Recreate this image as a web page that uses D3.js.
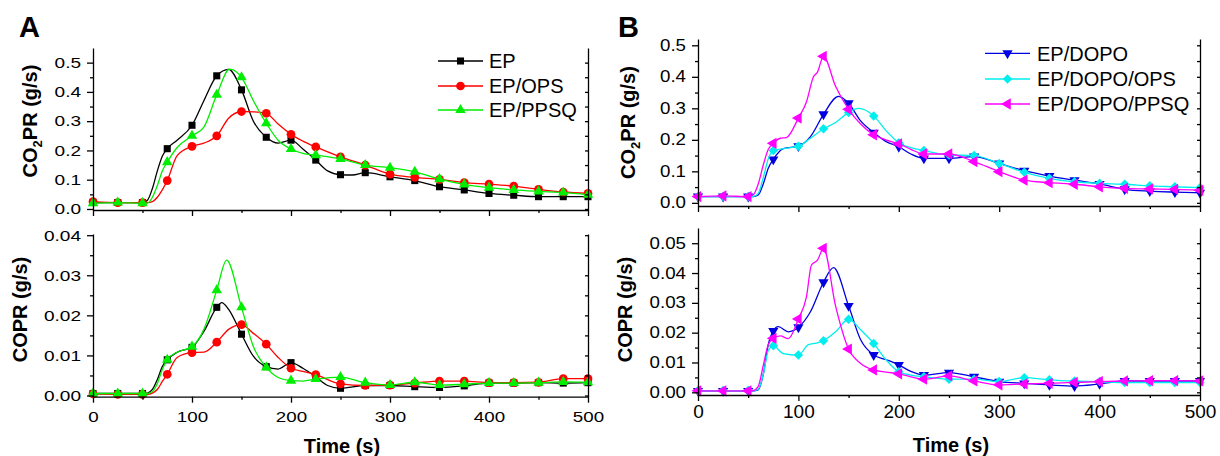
<!DOCTYPE html>
<html>
<head>
<meta charset="utf-8">
<script src="https://cdn.jsdelivr.net/npm/d3@7"></script>
<style>
  body { margin: 0; background: #fff; }
  svg { display: block; font-family: Arial, "Liberation Sans", sans-serif; }
</style>
</head>
<body>
<div id="chart"></div>
<script>
// time axis
const timeMajor = [0, 100, 200, 300, 400, 500];
const timeMinor = [50, 150, 250, 350, 450];

// Panel A, CO2 production rate (g/s) — [time, value]
const epCO2 = [[0,.022],[25,.022],[50,.022],[55,.03],[60,.07],[65,.13],[70,.18],[75,.206],[85,.235],[100,.286],[112,.37],[125,.455],[137,.477],[150,.407],[162,.30],[175,.245],[187,.225],[200,.235],[212,.205],[225,.167],[237,.13],[250,.117],[262,.116],[275,.124],[300,.110],[325,.097],[350,.076],[375,.065],[400,.053],[425,.047],[450,.042],[475,.042],[500,.042]];
const opsCO2 = [[0,.025],[25,.022],[50,.022],[55,.022],[60,.025],[65,.04],[70,.065],[75,.097],[85,.182],[100,.214],[112,.225],[125,.25],[137,.31],[150,.333],[162,.332],[175,.327],[187,.29],[200,.255],[212,.232],[225,.212],[250,.178],[275,.150],[300,.119],[325,.108],[350,.101],[375,.090],[400,.085],[425,.078],[450,.067],[475,.058],[500,.053]];
const ppsqCO2 = [[0,.02],[25,.022],[50,.02],[55,.02],[60,.04],[65,.08],[70,.13],[75,.16],[85,.21],[100,.25],[112,.28],[125,.39],[138,.478],[150,.45],[162,.37],[175,.293],[187,.235],[200,.205],[212,.19],[225,.184],[250,.171],[275,.150],[300,.141],[325,.127],[350,.102],[375,.084],[400,.073],[425,.065],[450,.060],[475,.056],[500,.049]];

// Panel A, CO production rate (g/s)
const epCO = [[0,.0005],[25,.0005],[50,.0005],[55,.0006],[60,.0015],[65,.004],[70,.0072],[75,.0089],[85,.0108],[100,.012],[112,.016],[125,.022],[130,.0232],[137,.0215],[150,.0153],[162,.0098],[175,.0072],[187,.0066],[200,.0082],[212,.0068],[225,.0047],[237,.0025],[250,.0018],[275,.0025],[300,.0025],[325,.0022],[350,.002],[375,.0024],[400,.0031],[425,.0031],[450,.0032],[475,.0031],[500,.0032]];
const opsCO = [[0,.0004],[25,.0003],[50,.0003],[55,.0003],[60,.0006],[65,.0015],[70,.0035],[75,.0053],[85,.0095],[100,.0107],[112,.0108],[125,.0133],[137,.0165],[150,.0177],[162,.0155],[175,.0128],[187,.0095],[200,.0068],[212,.006],[225,.0052],[250,.0029],[275,.0025],[300,.0026],[325,.0031],[350,.0036],[375,.0036],[400,.0032],[425,.0032],[450,.0033],[475,.0042],[500,.0042]];
const ppsqCO = [[0,.0005],[25,.0005],[50,.0005],[55,.0005],[60,.001],[65,.003],[70,.0065],[75,.0089],[85,.0108],[100,.0122],[112,.0165],[125,.0263],[135,.0338],[150,.022],[162,.0122],[175,.007],[187,.0045],[200,.0037],[212,.0036],[225,.0041],[250,.0046],[275,.0032],[300,.0026],[325,.0033],[350,.0026],[375,.0028],[400,.0031],[425,.0031],[450,.0032],[475,.0034],[500,.0033]];

// Panel B, CO2 production rate (g/s)
const dopoCO2 = [[0,.02],[25,.02],[50,.02],[55,.02],[60,.025],[65,.06],[70,.11],[75,.138],[85,.172],[100,.18],[112,.21],[125,.281],[140,.338],[150,.316],[162,.26],[175,.223],[187,.195],[200,.178],[212,.155],[225,.141],[250,.141],[275,.147],[300,.125],[325,.102],[350,.085],[375,.072],[400,.060],[425,.043],[450,.037],[475,.034],[500,.032]];
const dopoOpsCO2 = [[0,.02],[25,.02],[50,.02],[55,.02],[60,.03],[65,.08],[70,.14],[75,.166],[85,.172],[100,.18],[112,.205],[125,.235],[137,.255],[150,.287],[160,.30],[175,.276],[187,.23],[200,.191],[212,.175],[225,.166],[250,.152],[275,.150],[300,.125],[325,.097],[350,.078],[375,.067],[400,.062],[425,.059],[450,.054],[475,.051],[500,.048]];
const dopoPpsqCO2 = [[0,.02],[25,.022],[50,.02],[55,.025],[60,.06],[65,.12],[70,.17],[75,.189],[82,.205],[88,.207],[100,.269],[108,.32],[115,.40],[119,.415],[125,.465],[137,.37],[150,.297],[162,.25],[175,.216],[187,.20],[200,.187],[212,.17],[225,.155],[250,.155],[275,.131],[300,.099],[325,.072],[350,.064],[375,.059],[400,.051],[425,.046],[450,.044],[475,.043],[500,.040]];

// Panel B, CO production rate (g/s)
const dopoCO = [[0,.0005],[25,.0005],[50,.0005],[55,.0005],[60,.0008],[65,.006],[70,.016],[75,.0206],[80,.022],[90,.0203],[100,.0218],[112,.027],[125,.0369],[135,.0418],[150,.029],[162,.0176],[175,.0125],[187,.011],[200,.0092],[212,.007],[225,.0058],[250,.0066],[275,.0052],[300,.0036],[325,.0030],[350,.0025],[375,.0021],[400,.0028],[425,.0038],[450,.0038],[475,.0038],[500,.0038]];
const dopoOpsCO = [[0,.0006],[25,.0006],[50,.0006],[55,.0006],[60,.001],[65,.006],[70,.014],[75,.0156],[85,.013],[100,.0125],[110,.016],[118,.0165],[125,.0173],[137,.0203],[150,.0245],[162,.021],[175,.0164],[187,.011],[200,.0069],[212,.0058],[225,.0052],[250,.0044],[275,.0044],[300,.0036],[325,.0049],[350,.0042],[375,.0038],[400,.0036],[425,.0033],[450,.0033],[475,.0033],[500,.0033]];
const dopoPpsqCO = [[0,.0005],[25,.0005],[50,.0005],[55,.0006],[60,.002],[65,.009],[70,.016],[75,.0181],[82,.0189],[90,.018],[100,.0246],[108,.032],[113,.0427],[119,.0443],[125,.0483],[137,.029],[150,.0145],[162,.0097],[175,.0075],[187,.0068],[200,.0062],[212,.0052],[225,.0044],[250,.0055],[275,.0038],[300,.0025],[325,.0028],[350,.003],[375,.0033],[400,.0036],[425,.0038],[450,.0039],[475,.0039],[500,.0038]];

const namesA = ['EP', 'EP/OPS', 'EP/PPSQ'];
const namesB = ['EP/DOPO', 'EP/DOPO/OPS', 'EP/DOPO/PPSQ'];

const W = 1220, H = 456;
const svg = d3.select('#chart').append('svg').attr('width', W).attr('height', H);

// marker styles
const styleA = [
  { color: '#000000', symbol: d3.symbolSquare, size: 50, rot: 0 },
  { color: '#ff0000', symbol: d3.symbolCircle, size: 60, rot: 0 },
  { color: '#00ee00', symbol: d3.symbolTriangle, size: 48, rot: 0 }
];
const styleB = [
  { color: '#0000e0', symbol: d3.symbolTriangle, size: 45, rot: 180 },
  { color: '#00eeee', symbol: d3.symbolSquare, size: 45, rot: 45 },
  { color: '#ff00ff', symbol: d3.symbolTriangle, size: 55, rot: -90 }
];

function drawPlot(o) {
  const x = d3.scaleLinear().domain([0, 500]).range(o.xRange);
  const y = d3.scaleLinear().domain(o.yDomain).range(o.yRange);
  const g = svg.append('g');

  const line = d3.line()
    .x(d => x(d[0]))
    .y(d => y(d[1]))
    .curve(d3.curveMonotoneX);

  o.series.forEach((s, i) => {
    const st = o.styles[i];
    g.append('path')
      .datum(s)
      .attr('d', line)
      .attr('fill', 'none')
      .attr('stroke', st.color)
      .attr('stroke-width', 1.3);
    g.selectAll(null)
      .data(s.filter(d => d[0] % 25 === 0))
      .join('path')
      .attr('transform', d => `translate(${x(d[0])},${y(d[1])}) rotate(${st.rot})`)
      .attr('d', d3.symbol(st.symbol, st.size)())
      .attr('fill', st.color);
  });

  const styleAxis = (sel) => {
    sel.selectAll('path, line').attr('stroke', '#000').attr('stroke-width', 1.3);
    sel.attr('font-family', null).attr('font-size', null);
  };

  // left axis, major + minor
  const left = g.append('g')
    .attr('transform', `translate(${o.xRange[0]},0)`)
    .call(d3.axisLeft(y).tickValues(o.yMajor).tickSize(6).tickSizeOuter(0)
      .tickPadding(6).tickFormat(d3.format(o.fmt)))
    .call(styleAxis);
  left.selectAll('text')
    .attr('font-size', o.yFont)
    .attr('fill', '#000')
    .attr('transform', `translate(-12,0) scale(${o.ySx},1) translate(12,0)`);
  g.append('g')
    .attr('transform', `translate(${o.xRange[0]},0)`)
    .call(d3.axisLeft(y).tickValues(o.yMinor).tickSize(3).tickSizeOuter(0).tickFormat(''))
    .call(styleAxis)
    .select('.domain').remove();

  // right axis, ticks pointing inward
  g.append('g')
    .attr('transform', `translate(${o.xRange[1]},0)`)
    .call(d3.axisLeft(y).tickValues(o.yMajor.concat(o.yMinor)).tickSize(3).tickSizeOuter(0).tickFormat(''))
    .call(styleAxis);

  // bottom axis
  const bottom = g.append('g')
    .attr('transform', `translate(0,${o.yRange[0]})`)
    .call(d3.axisBottom(x).tickValues(timeMajor).tickSize(6).tickSizeOuter(0)
      .tickPadding(o.xPad || 3).tickFormat(o.xLabels ? d3.format('d') : ''))
    .call(styleAxis);
  bottom.selectAll('text')
    .attr('font-size', o.xFont || 15)
    .attr('fill', '#000')
    .attr('transform', `scale(${o.xSx || 1},1)`);
  g.append('g')
    .attr('transform', `translate(0,${o.yRange[0]})`)
    .call(d3.axisBottom(x).tickValues(timeMinor).tickSize(3).tickSizeOuter(0).tickFormat(''))
    .call(styleAxis)
    .select('.domain').remove();

  // y title
  const t = g.append('text')
    .attr('transform', `translate(${o.titlePos[0]},${o.titlePos[1]}) rotate(-90)`)
    .attr('text-anchor', 'middle')
    .attr('font-size', 20)
    .attr('font-weight', 'bold');
  if (o.co2) {
    t.append('tspan').text('CO');
    t.append('tspan').attr('font-size', 13).attr('dy', 5).text('2');
    t.append('tspan').attr('dy', -5).text('PR (g/s)');
  } else {
    t.text('COPR (g/s)');
  }
}

function drawLegend(names, styles, x0, rows, textX) {
  const lg = svg.append('g');
  names.forEach((n, i) => {
    const st = styles[i];
    lg.append('line')
      .attr('x1', x0).attr('x2', x0 + 45)
      .attr('y1', rows[i]).attr('y2', rows[i])
      .attr('stroke', st.color).attr('stroke-width', 1.3);
    lg.append('path')
      .attr('transform', `translate(${x0 + 22.5},${rows[i]}) rotate(${st.rot})`)
      .attr('d', d3.symbol(st.symbol, st.size)())
      .attr('fill', st.color);
    lg.append('text')
      .attr('x', textX).attr('y', rows[i] + 7.2)
      .attr('font-size', 20)
      .text(n);
  });
}

// Panel A
drawPlot({
  xRange: [93, 588], yDomain: [-0.0035, 0.55], yRange: [210, 48],
  yMajor: [0, 0.1, 0.2, 0.3, 0.4, 0.5], yMinor: [0.05, 0.15, 0.25, 0.35, 0.45],
  fmt: '.1f', yFont: 15, ySx: 1.27, xLabels: false,
  series: [epCO2, opsCO2, ppsqCO2], styles: styleA,
  titlePos: [36.5, 121], co2: true
});
drawPlot({
  xRange: [93, 588], yDomain: [-0.0003, 0.0403], yRange: [396.7, 234],
  yMajor: [0, 0.01, 0.02, 0.03, 0.04], yMinor: [0.005, 0.015, 0.025, 0.035],
  fmt: '.2f', yFont: 15, ySx: 1.27, xLabels: true, xFont: 15, xSx: 1.25, xPad: 9,
  series: [epCO, opsCO, ppsqCO], styles: styleA,
  titlePos: [27, 309.5], co2: false
});

// Panel B
drawPlot({
  xRange: [698, 1200], yDomain: [-0.01, 0.52], yRange: [206, 39],
  yMajor: [0, 0.1, 0.2, 0.3, 0.4, 0.5], yMinor: [0.05, 0.15, 0.25, 0.35, 0.45],
  fmt: '.1f', yFont: 16, ySx: 1.17, xLabels: false,
  series: [dopoCO2, dopoOpsCO2, dopoPpsqCO2], styles: styleB,
  titlePos: [635, 122.5], co2: true
});
drawPlot({
  xRange: [698, 1200], yDomain: [-0.0009, 0.0551], yRange: [395, 228],
  yMajor: [0, 0.01, 0.02, 0.03, 0.04, 0.05], yMinor: [0.005, 0.015, 0.025, 0.035, 0.045],
  fmt: '.2f', yFont: 16, ySx: 1.17, xLabels: true, xFont: 19, xSx: 1, xPad: 3.5,
  series: [dopoCO, dopoOpsCO, dopoPpsqCO], styles: styleB,
  titlePos: [632, 309.5], co2: false
});

drawLegend(namesA, styleA, 438, [61, 86, 110], 489);
drawLegend(namesB, styleB, 985, [53.3, 79, 104], 1037);

// axis titles and panel letters
svg.append('text').attr('x', 342).attr('y', 453).attr('text-anchor', 'middle')
  .attr('font-size', 20).attr('font-weight', 'bold').text('Time (s)');
svg.append('text').attr('x', 951).attr('y', 452).attr('text-anchor', 'middle')
  .attr('font-size', 20).attr('font-weight', 'bold').text('Time (s)');
svg.append('text').attr('x', 19).attr('y', 37)
  .attr('font-size', 29).attr('font-weight', 'bold').text('A');
svg.append('text').attr('x', 618).attr('y', 37)
  .attr('font-size', 29).attr('font-weight', 'bold').text('B');
</script>
</body>
</html>
